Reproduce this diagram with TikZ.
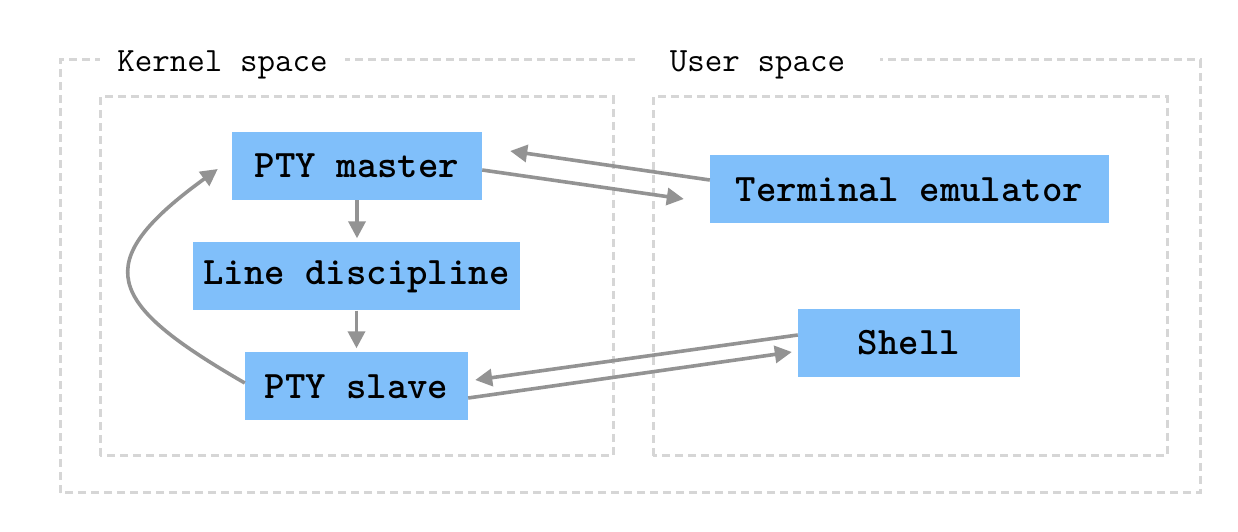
\documentclass[tikz,border=0pt]{standalone}
\usetikzlibrary{arrows.meta}
\definecolor{boxblue}{HTML}{80BFFA}
\definecolor{arrowgray}{HTML}{939393}
\definecolor{framegray}{HTML}{D6D6D6}

\begin{document}
\begin{tikzpicture}[x=1pt, y=1pt,
        frame/.style={draw=framegray, line width=3pt, dash pattern=on 8pt off 5pt},
        box/.style={fill=boxblue, minimum height=68pt, inner sep=0pt,
                    font=\fontsize{38.9}{44}\selectfont\ttfamily\bfseries},
        spacelabel/.style={fill=white, minimum width=245pt, minimum height=34pt, inner sep=0pt,
                    font=\fontsize{34}{40}\selectfont\ttfamily},
        flow/.style={draw=arrowgray, line width=3.6pt, -{Triangle[length=17pt, width=17pt]}}]
        \useasboundingbox (0,0) rectangle (1238,532);
        %frames
        \draw [frame] (60,39) rectangle (1200,472);
        \draw [frame] (100,76) rectangle (613,435)
                      (653,76) rectangle (1167,435);
        \node [spacelabel] (kernel) at (222.5,467) {Kernel space};
        \node [spacelabel] (user) at (757.5,467) {User space};
        %boxes
        \node [box, minimum width=250pt] (master) at (357,366) {PTY master};
        \node [box, minimum width=327pt] (line) at (356.5,255.5) {Line discipline};
        \node [box, minimum width=223pt] (slave) at (356.5,145.5) {PTY slave};
        \node [box, minimum width=399pt] (term) at (909.5,342.5) {Terminal emulator};
        \node [box, minimum width=222pt] (shell) at (909,189) {Shell};
        %kernel arrows
        \draw [flow, shorten >=4pt] (master.south) -- (master.south |- line.north);
        \draw [flow, shorten >=4pt] (line.south) -- (line.south |- slave.north);
        \draw [flow] ([yshift=3.5pt]slave.west) to [out=150, in=216, looseness=1.9]
              ([xshift=-14pt, yshift=-3pt]master.west);
        %user arrows
        \draw [flow] ([yshift=-4pt]master.east) -- ([xshift=-26pt, yshift=-9.5pt]term.west);
        \draw [flow] ([yshift=9.5pt]term.west) -- ([xshift=28pt, yshift=15pt]master.east);
        \draw [flow] ([yshift=8pt]shell.west) -- ([xshift=7pt, yshift=6.5pt]slave.east);
        \draw [flow] ([yshift=-11.5pt]slave.east) -- ([xshift=-6pt, yshift=-9pt]shell.west);
\end{tikzpicture}
\end{document}
